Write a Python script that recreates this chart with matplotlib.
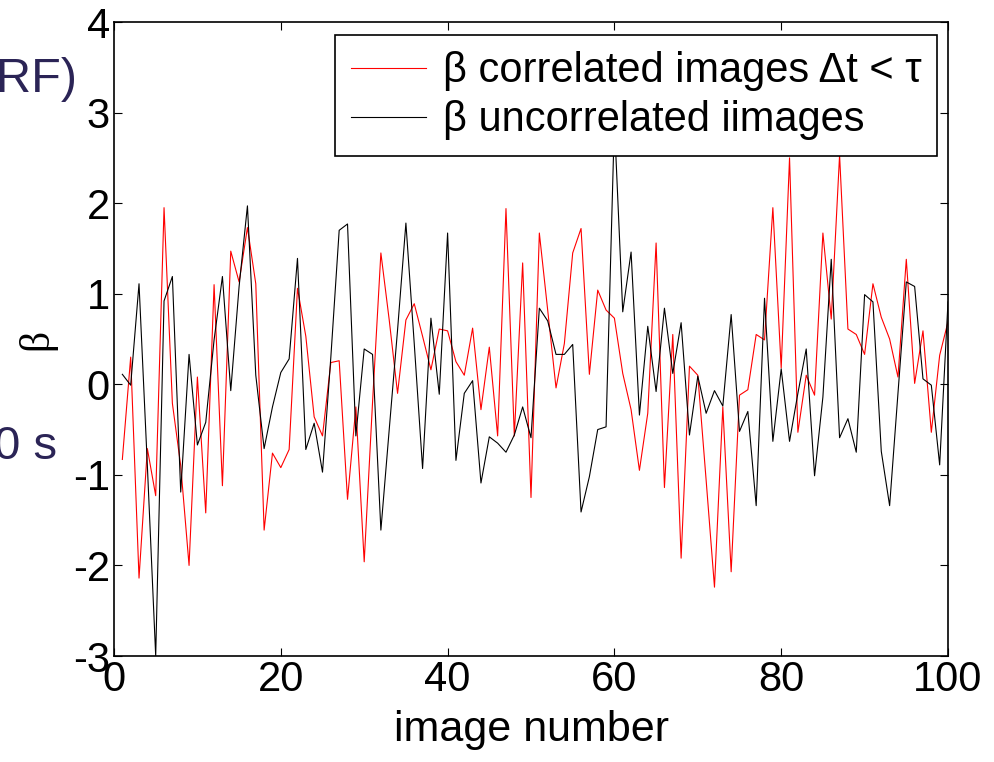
import numpy as np
import matplotlib
matplotlib.use("Agg")
import matplotlib.pyplot as plt

plt.rcParams['font.family'] = ['Liberation Sans', 'DejaVu Sans']
plt.rcParams['axes.unicode_minus'] = False

# image index 1..100
image_no = np.arange(1, 101)

# beta for correlated images (red)
beta_corr = [
    -0.83, 0.30, -2.14, -0.71, -1.23, 1.95, -0.21, -0.90, -2.00, 0.08,
    -1.42, 1.10, -1.12, 1.47, 1.13, 1.73, 1.11, -1.61, -0.76, -0.92,
    -0.72, 1.06, 0.53, -0.36, -0.57, 0.24, 0.26, -1.27, -0.25, -1.96,
    -0.20, 1.45, 0.71, -0.10, 0.71, 0.89, 0.53, 0.16, 0.61, 0.59,
    0.25, 0.10, 0.62, -0.28, 0.41, -0.57, 1.94, -0.57, 1.34, -1.25,
    1.67, 0.82, -0.04, 0.45, 1.45, 1.72, 0.11, 1.04, 0.82, 0.73,
    0.12, -0.28, -0.95, -0.32, 1.56, -1.14, 0.55, -1.92, 0.20, 0.10,
    -1.06, -2.24, -0.25, -2.07, -0.12, -0.06, 0.55, 0.49, 1.95, 0.18,
    2.50, -0.53, 0.10, -0.12, 1.67, 0.72, 2.53, 0.61, 0.55, 0.33,
    1.11, 0.74, 0.50, 0.08, 1.38, 0.01, 0.59, -0.53, 0.32, 0.69,
]

# beta for uncorrelated images (black)
beta_uncorr = [
    0.11, -0.01, 1.11, -0.90, -3.00, 0.92, 1.19, -1.19, 0.33, -0.67,
    -0.42, 0.49, 1.19, -0.07, 1.08, 1.97, 0.10, -0.71, -0.25, 0.13,
    0.28, 1.39, -0.72, -0.43, -0.97, 0.30, 1.70, 1.77, -0.57, 0.39,
    0.33, -1.61, -0.50, 0.60, 1.78, 0.45, -0.93, 0.73, -0.11, 1.67,
    -0.84, -0.10, 0.04, -1.09, -0.58, -0.65, -0.75, -0.56, -0.25, -0.59,
    0.84, 0.70, 0.33, 0.33, 0.44, -1.41, -1.02, -0.50, -0.47, 2.90,
    0.80, 1.46, -0.34, 0.64, -0.08, 0.84, 0.12, 0.68, -0.56, 0.09,
    -0.32, -0.07, -0.24, 0.77, -0.52, -0.30, -1.34, 0.95, -0.63, 0.17,
    -0.63, -0.10, 0.39, -1.01, -0.14, 1.38, -0.59, -0.38, -0.75, 0.99,
    0.91, -0.74, -1.34, -0.10, 1.13, 1.08, 0.06, -0.01, -0.89, 0.91,
]

x_ticks = [0, 20, 40, 60, 80, 100]
y_ticks = [-3, -2, -1, 0, 1, 2, 3, 4]

fig = plt.figure(figsize=(9.95, 7.62), dpi=100)
ax = fig.add_axes([114/995, 1-656/762, 834/995, 634/762])

ax.plot(image_no, beta_corr, color='red', lw=0.8,
        label='β correlated images Δt < τ')
ax.plot(image_no, beta_uncorr, color='black', lw=0.8,
        label='β uncorrelated iimages')

ax.set_xlim(0, 100)
ax.set_ylim(-3, 4)
ax.set_xticks(x_ticks)
ax.set_yticks(y_ticks)
ax.tick_params(direction='in', top=True, right=True, length=6,
               labelsize=30, pad=3)
for s in ax.spines.values():
    s.set_linewidth(1.2)

ax.set_xlabel('image number', fontsize=31, labelpad=7)
ax.set_ylabel('β', fontsize=30, family=['Liberation Serif'], labelpad=12)

# legend box sits in the top right, covering the lines behind it
leg = ax.legend(loc='upper right', bbox_to_anchor=(0.987, 0.979),
                borderaxespad=0, fontsize=30, fancybox=False,
                edgecolor='black', framealpha=1, handlelength=1.8,
                handletextpad=0.4, borderpad=0.38, labelspacing=0.22)
leg.get_frame().set_linewidth(1.2)
leg.set_zorder(5)

# bits of slide text peeking in from the left
fig.text(-0.004, 1-80/762, 'RF)', fontsize=35, color='#2b2456',
         va='center', ha='left')
fig.text(-0.006, 1-447/762, '0 s', fontsize=34, color='#2b2456',
         va='center', ha='left')

fig.savefig('out.png', dpi=100)
